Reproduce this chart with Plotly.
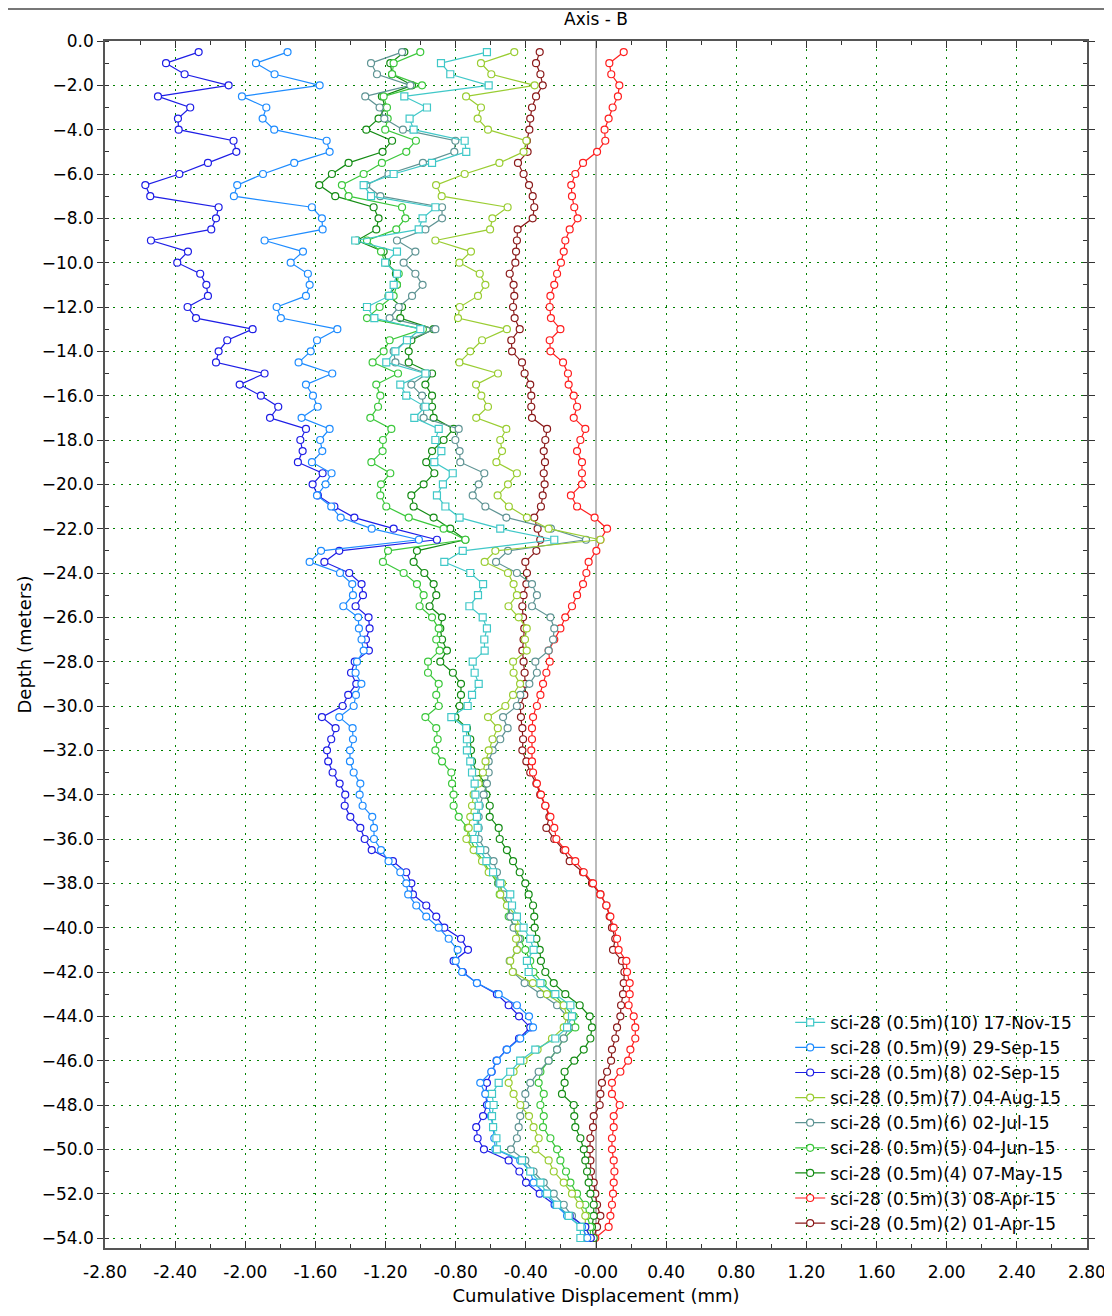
import plotly.graph_objects as go

depth = [-0.5, -1.0, -1.5, -2.0, -2.5, -3.0, -3.5, -4.0, -4.5, -5.0, -5.5, -6.0, -6.5, -7.0, -7.5, -8.0, -8.5, -9.0,
         -9.5, -10.0, -10.5, -11.0, -11.5, -12.0, -12.5, -13.0, -13.5, -14.0, -14.5, -15.0, -15.5, -16.0, -16.5, -17.0, -17.5,
         -18.0, -18.5, -19.0, -19.5, -20.0, -20.5, -21.0, -21.5, -22.0, -22.5, -23.0, -23.5, -24.0, -24.5, -25.0, -25.5, -26.0,
         -26.5, -27.0, -27.5, -28.0, -28.5, -29.0, -29.5, -30.0, -30.5, -31.0, -31.5, -32.0, -32.5, -33.0, -33.5, -34.0, -34.5,
         -35.0, -35.5, -36.0, -36.5, -37.0, -37.5, -38.0, -38.5, -39.0, -39.5, -40.0, -40.5, -41.0, -41.5, -42.0, -42.5,
         -43.0, -43.5, -44.0, -44.5, -45.0, -45.5, -46.0, -46.5, -47.0, -47.5, -48.0, -48.5, -49.0, -49.5, -50.0, -50.5,
         -51.0, -51.5, -52.0, -52.5, -53.0, -53.5, -54.0]

s10_17nov = [-0.622, -0.884, -0.831, -0.612, -1.093, -0.964, -1.063, -1.040, -0.749, -0.740, -0.935, -1.154, -1.325, -1.283, -0.916, -0.989, -1.011, -1.373,
             -1.135, -1.202, -1.135, -1.154, -1.179, -1.306, -1.264, -1.002, -1.078, -1.144, -1.196, -0.973, -1.116, -1.082, -0.973, -1.036, -0.897,
             -0.916, -0.882, -0.922, -0.817, -0.873, -0.907, -0.859, -0.778, -0.546, -0.238, -0.760, -0.865, -0.717, -0.644, -0.673, -0.722, -0.646,
             -0.622, -0.637, -0.635, -0.703, -0.692, -0.669, -0.707, -0.732, -0.825, -0.740, -0.736, -0.736, -0.717, -0.707, -0.692, -0.688, -0.669,
             -0.679, -0.675, -0.694, -0.660, -0.625, -0.587, -0.546, -0.489, -0.479, -0.451, -0.413, -0.375, -0.356, -0.394, -0.384, -0.317,
             -0.232, -0.146, -0.137, -0.165, -0.232, -0.346, -0.432, -0.489, -0.555, -0.593, -0.584, -0.593, -0.587, -0.568, -0.565, -0.422,
             -0.375, -0.317, -0.279, -0.222, -0.156, -0.089, -0.089]

s9_29sep = [-1.759, -1.939, -1.833, -1.576, -2.019, -1.880, -1.901, -1.835, -1.536, -1.519, -1.721, -1.899, -2.046, -2.065, -1.620, -1.563, -1.559, -1.890,
            -1.671, -1.741, -1.643, -1.633, -1.654, -1.821, -1.797, -1.475, -1.591, -1.627, -1.696, -1.504, -1.654, -1.614, -1.587, -1.679, -1.519,
            -1.573, -1.561, -1.620, -1.508, -1.542, -1.591, -1.510, -1.456, -1.279, -1.010, -1.568, -1.633, -1.460, -1.390, -1.386, -1.441, -1.356,
            -1.352, -1.337, -1.325, -1.363, -1.371, -1.338, -1.369, -1.382, -1.464, -1.388, -1.386, -1.403, -1.403, -1.382, -1.344, -1.348, -1.331,
            -1.276, -1.266, -1.266, -1.226, -1.183, -1.116, -1.082, -1.071, -1.025, -0.968, -0.897, -0.840, -0.789, -0.800, -0.764, -0.679,
            -0.555, -0.451, -0.382, -0.359, -0.432, -0.508, -0.565, -0.597, -0.660, -0.631, -0.612, -0.599, -0.587, -0.580, -0.574, -0.432,
            -0.375, -0.356, -0.289, -0.232, -0.165, -0.080, -0.050]

s8_02sep = [-2.266, -2.452, -2.346, -2.095, -2.498, -2.314, -2.384, -2.380, -2.067, -2.051, -2.213, -2.376, -2.570, -2.542, -2.152, -2.167, -2.194, -2.538,
            -2.327, -2.388, -2.257, -2.222, -2.213, -2.329, -2.281, -1.958, -2.103, -2.152, -2.167, -1.890, -2.032, -1.911, -1.812, -1.859, -1.654,
            -1.686, -1.673, -1.700, -1.559, -1.616, -1.586, -1.492, -1.378, -1.154, -0.907, -1.464, -1.549, -1.407, -1.337, -1.329, -1.371, -1.297,
            -1.291, -1.312, -1.295, -1.376, -1.397, -1.367, -1.413, -1.445, -1.563, -1.485, -1.510, -1.534, -1.527, -1.502, -1.462, -1.430, -1.433,
            -1.401, -1.344, -1.319, -1.279, -1.158, -1.082, -1.053, -1.044, -0.968, -0.911, -0.865, -0.770, -0.730, -0.812, -0.760, -0.679,
            -0.565, -0.498, -0.439, -0.375, -0.439, -0.510, -0.567, -0.595, -0.622, -0.629, -0.622, -0.644, -0.683, -0.675, -0.639, -0.498,
            -0.437, -0.399, -0.321, -0.236, -0.150, -0.061, -0.030]

s7_04aug = [-0.466, -0.656, -0.597, -0.350, -0.741, -0.656, -0.675, -0.616, -0.397, -0.413, -0.551, -0.749, -0.912, -0.880, -0.504, -0.591, -0.604, -0.916,
            -0.713, -0.779, -0.663, -0.631, -0.673, -0.777, -0.787, -0.508, -0.650, -0.717, -0.779, -0.559, -0.684, -0.654, -0.616, -0.683, -0.511,
            -0.546, -0.536, -0.568, -0.451, -0.502, -0.561, -0.497, -0.394, -0.270, 0.025, -0.574, -0.635, -0.502, -0.470, -0.451, -0.499, -0.441,
            -0.395, -0.405, -0.395, -0.473, -0.470, -0.433, -0.473, -0.517, -0.616, -0.560, -0.590, -0.612, -0.630, -0.645, -0.669, -0.698, -0.707,
            -0.717, -0.726, -0.739, -0.698, -0.650, -0.612, -0.536, -0.546, -0.508, -0.451, -0.441, -0.456, -0.451, -0.489, -0.475, -0.360,
            -0.280, -0.184, -0.165, -0.184, -0.251, -0.333, -0.413, -0.470, -0.498, -0.470, -0.432, -0.382, -0.356, -0.327, -0.346, -0.270,
            -0.241, -0.184, -0.137, -0.093, -0.061, -0.061, -0.032]

s6_02jul = [-1.106, -1.283, -1.249, -1.059, -1.316, -1.234, -1.207, -1.101, -0.802, -0.808, -0.987, -1.183, -1.310, -1.230, -0.878, -0.878, -0.973, -1.135,
            -1.030, -1.097, -1.030, -0.989, -1.049, -1.125, -1.177, -0.916, -1.078, -1.154, -1.144, -0.964, -1.053, -0.992, -0.983, -0.983, -0.783,
            -0.802, -0.778, -0.774, -0.637, -0.669, -0.703, -0.631, -0.511, -0.257, -0.057, -0.502, -0.570, -0.451, -0.365, -0.337, -0.365, -0.260,
            -0.238, -0.245, -0.270, -0.346, -0.337, -0.380, -0.432, -0.451, -0.530, -0.504, -0.546, -0.589, -0.612, -0.612, -0.622, -0.641, -0.663,
            -0.669, -0.669, -0.669, -0.631, -0.584, -0.565, -0.555, -0.527, -0.498, -0.489, -0.470, -0.441, -0.451, -0.492, -0.473, -0.407,
            -0.317, -0.222, -0.165, -0.156, -0.184, -0.222, -0.270, -0.327, -0.375, -0.403, -0.403, -0.432, -0.441, -0.451, -0.485, -0.403,
            -0.356, -0.298, -0.241, -0.184, -0.137, -0.070, -0.061]

s5_04jun = [-1.002, -1.154, -1.163, -0.992, -1.211, -1.192, -1.188, -1.202, -1.027, -1.082, -1.221, -1.325, -1.449, -1.411, -1.106, -1.087, -1.139, -1.306,
            -1.226, -1.202, -1.125, -1.135, -1.154, -1.234, -1.306, -0.987, -1.177, -1.211, -1.274, -1.129, -1.253, -1.230, -1.243, -1.287, -1.167,
            -1.215, -1.217, -1.281, -1.173, -1.226, -1.230, -1.196, -1.068, -0.869, -0.745, -1.186, -1.215, -1.097, -1.021, -0.983, -1.006, -0.935,
            -0.897, -0.911, -0.892, -0.958, -0.958, -0.897, -0.911, -0.897, -0.973, -0.911, -0.903, -0.916, -0.878, -0.825, -0.821, -0.812, -0.812,
            -0.783, -0.732, -0.717, -0.688, -0.641, -0.606, -0.559, -0.549, -0.502, -0.498, -0.460, -0.432, -0.403, -0.375, -0.356, -0.304,
            -0.241, -0.184, -0.127, -0.118, -0.184, -0.222, -0.270, -0.317, -0.327, -0.298, -0.317, -0.298, -0.302, -0.260, -0.222, -0.203,
            -0.171, -0.146, -0.108, -0.061, -0.051, -0.032, -0.032]

s4_07may = [-1.093, -1.173, -1.163, -1.049, -1.221, -1.202, -1.240, -1.310, -1.163, -1.217, -1.411, -1.506, -1.578, -1.487, -1.268, -1.240, -1.253, -1.363,
            -1.211, -1.192, -1.141, -1.135, -1.183, -1.106, -1.116, -0.926, -1.053, -1.068, -1.068, -0.935, -0.973, -0.935, -0.935, -0.926, -0.812,
            -0.869, -0.935, -0.968, -0.922, -0.983, -1.053, -1.040, -0.926, -0.831, -0.745, -1.021, -1.040, -0.979, -0.926, -0.911, -0.949, -0.878,
            -0.888, -0.878, -0.850, -0.888, -0.816, -0.770, -0.770, -0.778, -0.802, -0.736, -0.717, -0.713, -0.707, -0.679, -0.631, -0.625, -0.606,
            -0.606, -0.555, -0.549, -0.508, -0.473, -0.435, -0.403, -0.384, -0.359, -0.352, -0.350, -0.340, -0.321, -0.314, -0.289, -0.241,
            -0.175, -0.093, -0.036, -0.023, -0.032, -0.070, -0.124, -0.179, -0.179, -0.194, -0.127, -0.124, -0.118, -0.089, -0.070, -0.061,
            -0.051, -0.042, -0.032, -0.013, -0.013, -0.023, -0.013]

s3_08apr = [0.158, 0.076, 0.087, 0.133, 0.125, 0.095, 0.072, 0.049, 0.053, 0.006, -0.074, -0.118, -0.141, -0.137, -0.124, -0.105, -0.150, -0.175,
            -0.184, -0.200, -0.222, -0.238, -0.260, -0.264, -0.257, -0.203, -0.264, -0.260, -0.188, -0.160, -0.156, -0.127, -0.108, -0.127, -0.061,
            -0.089, -0.108, -0.080, -0.080, -0.080, -0.143, -0.108, -0.008, 0.063, 0.025, 0.002, -0.042, -0.055, -0.074, -0.108, -0.137, -0.175,
            -0.203, -0.238, -0.270, -0.264, -0.283, -0.302, -0.317, -0.337, -0.359, -0.365, -0.365, -0.369, -0.365, -0.359, -0.337, -0.314, -0.289,
            -0.260, -0.238, -0.226, -0.175, -0.118, -0.070, -0.017, 0.025, 0.059, 0.082, 0.101, 0.120, 0.129, 0.173, 0.177, 0.192,
            0.192, 0.186, 0.215, 0.224, 0.224, 0.196, 0.183, 0.139, 0.091, 0.091, 0.135, 0.101, 0.101, 0.091, 0.091, 0.101,
            0.105, 0.101, 0.097, 0.091, 0.082, 0.072, -0.004]

s2_01apr = [-0.321, -0.342, -0.317, -0.304, -0.342, -0.365, -0.375, -0.380, -0.394, -0.390, -0.445, -0.413, -0.382, -0.361, -0.352, -0.361, -0.447, -0.451,
            -0.456, -0.460, -0.492, -0.470, -0.466, -0.473, -0.464, -0.435, -0.483, -0.479, -0.422, -0.407, -0.375, -0.369, -0.369, -0.365, -0.279,
            -0.289, -0.298, -0.291, -0.298, -0.293, -0.304, -0.314, -0.352, -0.333, -0.318, -0.340, -0.403, -0.394, -0.397, -0.413, -0.420, -0.416,
            -0.409, -0.413, -0.420, -0.413, -0.407, -0.403, -0.409, -0.432, -0.428, -0.420, -0.416, -0.420, -0.397, -0.375, -0.340, -0.318, -0.289,
            -0.266, -0.283, -0.238, -0.184, -0.150, -0.074, -0.023, 0.025, 0.059, 0.078, 0.091, 0.110, 0.097, 0.148, 0.162, 0.158,
            0.154, 0.143, 0.139, 0.120, 0.110, 0.091, 0.086, 0.063, 0.034, 0.025, 0.021, -0.013, -0.017, -0.032, -0.036, -0.032,
            -0.029, -0.013, -0.004, 0.006, 0.025, 0.006, -0.013]

series_names = ["sci-28 (0.5m)(10) 17-Nov-15", "sci-28 (0.5m)(9) 29-Sep-15", "sci-28 (0.5m)(8) 02-Sep-15",
                "sci-28 (0.5m)(7) 04-Aug-15", "sci-28 (0.5m)(6) 02-Jul-15", "sci-28 (0.5m)(5) 04-Jun-15",
                "sci-28 (0.5m)(4) 07-May-15", "sci-28 (0.5m)(3) 08-Apr-15", "sci-28 (0.5m)(2) 01-Apr-15"]
series_values = [s10_17nov, s9_29sep, s8_02sep, s7_04aug, s6_02jul, s5_04jun, s4_07may, s3_08apr, s2_01apr]
series_colors = ["#40C8C8", "#1E8CFF", "#1E1EE6", "#9ACD32", "#5F9494", "#3CC83C", "#148C14", "#FF1E1E", "#8B1A1A"]
series_symbols = ["square", "circle", "circle", "circle", "circle", "circle", "circle", "circle", "circle"]

x_tickvals = [-2.8, -2.4, -2.0, -1.6, -1.2, -0.8, -0.4, 0.0, 0.4, 0.8, 1.2, 1.6, 2.0, 2.4, 2.8]
x_ticktext = ["-2.80", "-2.40", "-2.00", "-1.60", "-1.20", "-0.80", "-0.40", "-0.00", "0.40", "0.80",
              "1.20", "1.60", "2.00", "2.40", "2.80"]

fig = go.Figure()
for name, vals, col, sym in reversed(list(zip(series_names, series_values, series_colors, series_symbols))):
    fig.add_trace(go.Scatter(
        x=vals, y=depth, mode="lines+markers", name=name,
        line=dict(color=col, width=1.2),
        marker=dict(symbol=sym, size=7, color="white", line=dict(color=col, width=1.2)),
    ))

font_family = "DejaVu Sans, Liberation Sans, Arial, sans-serif"

# The page body adds an 8px offset at top-left; margins compensate for it
W, H = 1104, 1300
ML, MR, MT, MB = 97, 25, 33, 60
plot_w = W - ML - MR
plot_h = H - MT - MB

fig.update_layout(
    width=W, height=H,
    margin=dict(l=ML, r=MR, t=MT, b=MB),
    paper_bgcolor="white", plot_bgcolor="white",
    font=dict(family=font_family, size=17, color="#000"),
    title=dict(text="Axis - B", x=(596 - 8) / W, xanchor="center", y=1 - 11 / H, yanchor="middle",
               yref="container", font=dict(size=17, family=font_family)),
    showlegend=True,
    legend=dict(x=0.99, xanchor="right", y=0.006, yanchor="bottom",
                bgcolor="rgba(0,0,0,0)", traceorder="reversed",
                font=dict(size=17, family=font_family), itemwidth=30,
                tracegroupgap=0),
    xaxis=dict(
        range=[-2.8, 2.8], tickvals=x_tickvals, ticktext=x_ticktext, automargin=False,
        ticklabeloverflow="allow",
        showline=True, linecolor="#555", linewidth=1.5, mirror="ticks",
        ticks="inside", ticklen=7, tickcolor="#333", ticklabelstandoff=8,
        minor=dict(dtick=0.2, tick0=0, ticks="inside", ticklen=4, tickcolor="#333", showgrid=False),
        showgrid=True, gridcolor="#008000", griddash="2px,6px", gridwidth=1.3,
        zeroline=True, zerolinecolor="#BBBBBB", zerolinewidth=1.5,
        title=dict(text="Cumulative Displacement (mm)", font=dict(size=18), standoff=8),
        tickfont=dict(size=17),
    ),
    yaxis=dict(
        range=[-54.45, 0.0], tick0=0, dtick=2, tickformat=".1f", automargin=False,
        showline=True, linecolor="#555", linewidth=1.5, mirror="ticks",
        ticks="outside", ticklen=6, tickcolor="#333",
        minor=dict(dtick=1, tick0=0, ticks="inside", ticklen=4, tickcolor="#333", showgrid=False),
        showgrid=True, gridcolor="#008000", griddash="2px,6px", gridwidth=1.3,
        zeroline=False,
        title=dict(text="Depth (meters)", font=dict(size=18), standoff=5),
        tickfont=dict(size=17),
    ),
    shapes=[
        dict(type="line", xref="paper", yref="paper", x0=-ML / plot_w, x1=(W - 6 - ML) / plot_w,
             y0=(plot_h + MT - 1) / plot_h, y1=(plot_h + MT - 1) / plot_h, line=dict(color="#777", width=2)),
    ],
)

fig.write_html("out.html")
